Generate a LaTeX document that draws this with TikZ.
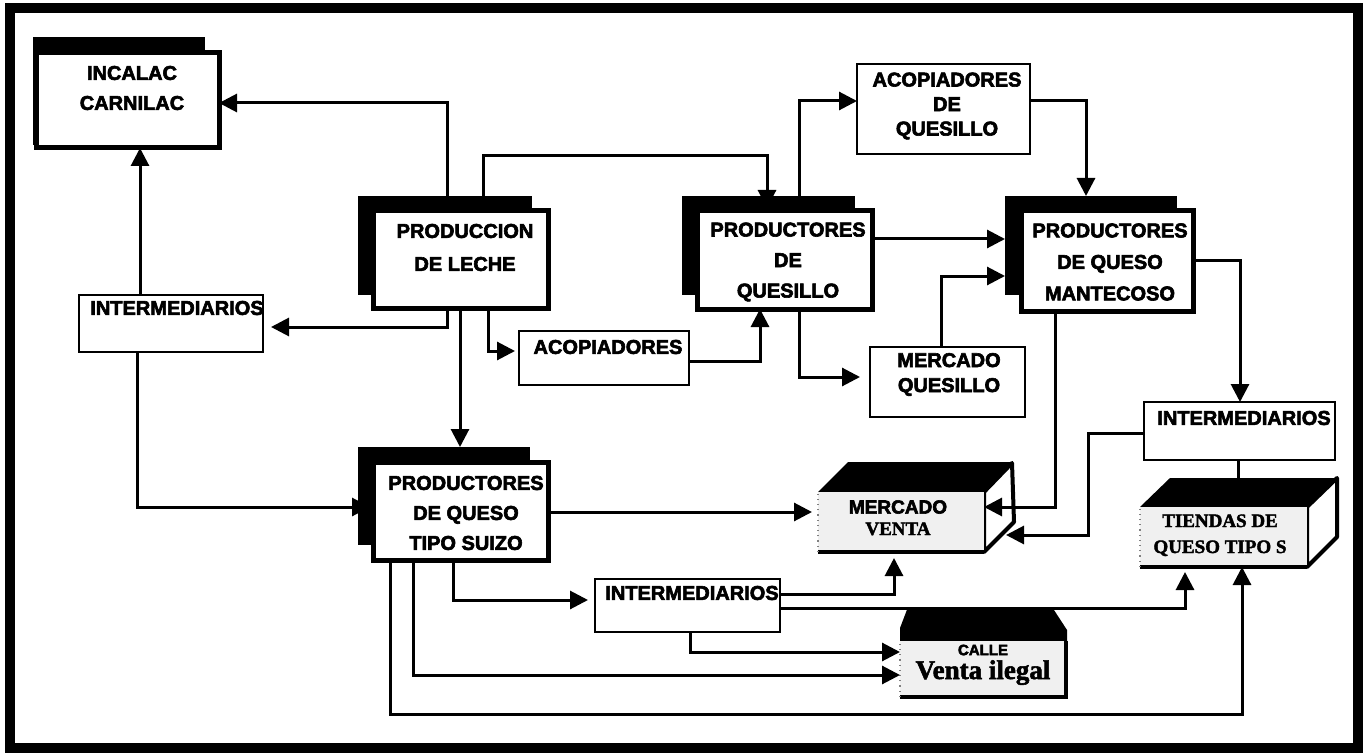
\documentclass[tikz,border=0pt]{standalone}
\usepackage{fontspec}
\setmainfont{Liberation Serif}
\setsansfont{Liberation Sans}
\newfontfamily\lab{Liberation Sans}[BoldFeatures={FakeBold=3}]
\newfontfamily\srf{Liberation Serif}[BoldFeatures={FakeBold=2}]
\usetikzlibrary{arrows.meta,fit}
\pgfdeclarelayer{base}
\pgfdeclarelayer{bg}
\pgfsetlayers{base,bg,main}
\tikzset{
 arr/.style={-{Triangle[length=9pt,width=9pt]}, line width=1.5pt},
 ln/.style={line width=1.5pt},
 backbox/.style={fill=black, draw=none, inner sep=0pt, outer sep=0pt},
 frontbox/.style={fill=white, draw=black, line width=2.5pt, inner sep=0pt, outer sep=0pt},
 thinbox/.style={fill=white, draw=black, line width=1.4pt, inner sep=0pt, outer sep=0pt},
 face/.style={inner sep=0pt, outer sep=0pt, fill=gray!12},
 txt/.style={font=\lab\bfseries\fontsize{10}{#1}\selectfont, align=center, inner sep=0pt},
 txt/.default=15pt,
 stxt/.style={font=\srf\bfseries\fontsize{9.5}{11}\selectfont, inner sep=0pt, anchor=base},
}
\begin{document}
\begin{tikzpicture}[x=0.5pt,y=-0.5pt]
\useasboundingbox (0,0) rectangle (1364,754);
\begin{pgfonlayer}{base}
\fill[white] (0,0) rectangle (1364,754);
\end{pgfonlayer}

% ---- boxes ----
\node[backbox, fit={(33,37) (205,145)}] (incB) {};
\node[frontbox, fit={(36,53) (219,148)}] (inc) {};
\node[txt=15pt] (incT) at (132,88) {INCALAC\\CARNILAC};

\node[thinbox, fit={(79,295) (263,352)}] (intL) {};
\node[txt] (intLT) at (177,308) {INTERMEDIARIOS};

\node[backbox, fit={(358,196) (532,295)}] (lecB) {};
\node[frontbox, fit={(373,211) (548,308)}] (lec) {};
\node[txt=16.5pt] (lecT) at (465,247.5) {PRODUCCION\\DE LECHE};

\node[backbox, fit={(682,196) (855,295)}] (qslB) {};
\node[frontbox, fit={(697,211) (872,309)}] (qsl) {};
\node[txt=15.25pt] (qslT) at (788,262) {PRODUCTORES\\DE\\QUESILLO};

\node[thinbox, fit={(857,64) (1030,154)}] (acq) {};
\node[txt=12.25pt] (acqT) at (947,106) {ACOPIADORES\\DE\\QUESILLO};

\node[backbox, fit={(1005,196) (1177,295)}] (manB) {};
\node[frontbox, fit={(1021,211) (1193,311)}] (man) {};
\node[txt=15.75pt] (manT) at (1110,262) {PRODUCTORES\\DE QUESO\\MANTECOSO};

\node[thinbox, fit={(519,331) (689,385)}] (aco) {};
\node[txt] (acoT) at (608,347) {ACOPIADORES};

\node[thinbox, fit={(870,347) (1025,417)}] (mq) {};
\node[txt=12.5pt] (mqT) at (949,374.5) {MERCADO\\QUESILLO};

\node[thinbox, fit={(1144,402) (1335,460)}] (intR) {};
\node[txt] (intRT) at (1244,418) {INTERMEDIARIOS};

\node[backbox, fit={(358,447) (530,545)}] (suiB) {};
\node[frontbox, fit={(373,462) (548,560)}] (sui) {};
\node[txt=15pt] (suiT) at (466,513) {PRODUCTORES\\DE QUESO\\TIPO SUIZO};

\node[thinbox, fit={(595,579) (780,632)}] (intM) {};
\node[txt] (intMT) at (692,593) {INTERMEDIARIOS};

% ---- MERCADO VENTA (3D box) ----
\fill (818,492) -- (848,462) -- (1012,462) -- (984,492) -- cycle;
\filldraw[fill=white, line width=2pt, line join=round] (984,492) -- (1012,463) -- (1014,522) -- (984,552) -- cycle;
\node[face, fit={(818,492) (984,552)}] (mv) {};
\draw[line width=2pt] (mv.south west) -- (mv.south east);
\draw[gray, line width=0.6pt, dotted] (mv.south west) -- (mv.north west);
\node[font=\lab\bfseries\fontsize{9.5}{11}\selectfont, inner sep=0pt] (mvT1) at (898,507) {MERCADO};
\node[stxt] (mvT2) at (898,535) {VENTA};
\coordinate (mvIn) at (1006,535);

% ---- TIENDAS (3D box) ----
\fill (1140,507) -- (1170,478) -- (1337,478) -- (1307,507) -- cycle;
\filldraw[fill=white, line width=2pt, line join=round] (1307,507) -- (1337,478) -- (1337,537) -- (1307,567) -- cycle;
\node[face, fit={(1140,507) (1307,567)}] (ti) {};
\draw[line width=2pt] (ti.south west) -- (ti.south east);
\draw[gray, line width=0.6pt, dotted] (ti.south west) -- (ti.north west);
\node[stxt] (tiT1) at (1220,527) {TIENDAS DE};
\node[stxt] (tiT2) at (1220,553) {QUESO TIPO S};

% ---- CALLE (3D box) ----
\fill (908,607) -- (1052,607) -- (1067,630) -- (1067,641) -- (900,641) -- (900,628) -- cycle;
\node[face, fit={(900,641) (1066,697)}] (ca) {};
\draw[line width=2pt] (ca.north east) -- (ca.south east) -- (ca.south west);
\draw[gray, line width=0.6pt, dotted] (ca.south west) -- (ca.north west);
\node[font=\lab\bfseries\fontsize{7.5}{9}\selectfont, inner sep=0pt] (caT1) at (983,650) {CALLE};
\node[font=\srf\bfseries\fontsize{13.5}{15}\selectfont, inner sep=0pt, anchor=base] (caT2) at (983,679) {Venta ilegal};

% ---- connectors partly hidden behind boxes ----
\begin{pgfonlayer}{bg}
\draw[arr, shorten >=-6pt] (483,0 |- lecB.north) -- (483,156) -| (767,0 |- qslB.north);
\draw[arr, shorten >=-6pt] (137,0 |- intL.south) |- (suiB.west |- 0,507);
\end{pgfonlayer}

% ---- connectors ----
\draw[arr] (447,0 |- lecB.north) |- (inc.east |- 0,103);
\draw[arr] (799,0 |- qslB.north) |- (acq.west |- 0,101);
\draw[arr] (acq.east |- 0,101) -| (1086,0 |- manB.north);
\draw[arr] (qsl.east |- 0,239) -- (manB.west |- 0,239);
\draw[arr] (941,0 |- mq.north) |- (manB.west |- 0,276);
\draw[arr, shorten >=5pt] (799,0 |- qsl.south) |- (mq.west |- 0,377);
\draw[arr] (aco.east |- 0,361) -| (760,0 |- qsl.south);
\draw[arr, shorten >=2pt] (488,0 |- lec.south) |- (aco.west |- 0,351);
\draw[arr, shorten >=4pt] (447,0 |- lec.south) |- (intL.east |- 0,327);
\draw[arr] (460,0 |- lec.south) -- (460,0 |- suiB.north);
\draw[arr] (140,0 |- intL.north) -- (140,0 |- inc.south);
\draw[arr, shorten >=3pt] (sui.east |- 0,512) -- (mv.west |- 0,512);
\draw[arr] (1055,0 |- man.south) |- (mv.east |- 0,507);
\draw[arr] (intR.west |- 0,433) -| (1088,535) -- (mvIn);
\draw[arr] (man.east |- 0,260) -| (1240,0 |- intR.north);
\draw[ln] (1238,0 |- intR.south) -- (1238,0 |- ti.north);
\draw[arr, shorten >=3.5pt] (453,0 |- sui.south) |- (intM.west |- 0,600);
\draw[arr, shorten >=3pt] (intM.east |- 0,594) -| (894,0 |- mv.south);
\draw[arr, shorten >=2.5pt] (intM.east |- 0,608) -| (1185,0 |- ti.south);
\draw[arr] (690,0 |- intM.south) |- (ca.west |- 0,652);
\draw[arr] (413,0 |- sui.south) |- (ca.west |- 0,675);
\draw[arr] (390,0 |- sui.south) -- (390,714) -| (1242,0 |- ti.south);

% ---- outer frame ----
\draw[line width=5pt] (10,8) rectangle (1358,748);
\end{tikzpicture}
\end{document}
